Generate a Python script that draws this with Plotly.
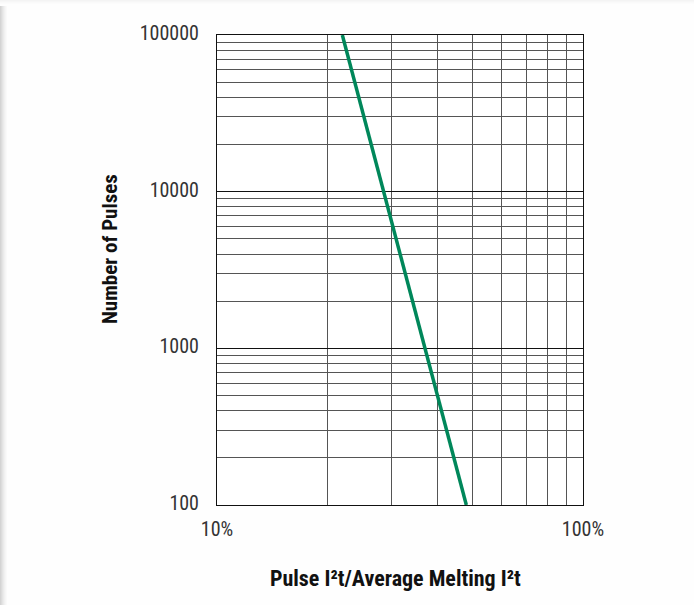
import plotly.graph_objects as go

# ---- data ----
pulse_ratio_pct = [22, 48]          # Pulse I²t / Average Melting I²t (%)
num_pulses = [100000, 100]          # Number of Pulses

x_major = [10, 100]
x_major_text = ["10%", "100%"]
x_minor = [20, 30, 40, 50, 60, 70, 80, 90]

y_major = [100, 1000, 10000, 100000]
y_major_text = ["100", "1000", "10000", "100000"]
y_minor = [m * d for d in (100, 1000, 10000) for m in range(2, 10)]

FONT = "Liberation Sans Narrow, Roboto Condensed, Arial Narrow, Liberation Sans, sans-serif"
W, H = 694, 605
L, R, T, B = 217, 583, 35, 505

fig = go.Figure()
fig.add_trace(go.Scatter(
    x=pulse_ratio_pct, y=num_pulses, mode="lines",
    line=dict(color="#00875a", width=3.5), hoverinfo="skip", showlegend=False,
))

def px_x(p):
    return (p - L) / (R - L)

def px_y(p):
    return (B - p) / (B - T)

shapes = []
# soft card shadow at left and top edges
shadow_cols = ["#d4d4d4", "#dcdcdc", "#e4e4e4", "#ebebeb", "#f1f1f1", "#f6f6f6", "#fafafa"]
for i, c in enumerate(shadow_cols):
    shapes.append(dict(type="rect", xref="paper", yref="paper", layer="below",
                       x0=px_x(i), x1=px_x(i + 1), y0=px_y(H), y1=px_y(6),
                       fillcolor=c, line_width=0))
for i, c in enumerate(["#f4f4f4", "#f7f7f7", "#fafafa", "#fcfcfc"]):
    shapes.append(dict(type="rect", xref="paper", yref="paper", layer="below",
                       x0=px_x(0), x1=px_x(W), y0=px_y(i + 1), y1=px_y(i),
                       fillcolor=c, line_width=0))

fig.update_layout(
    width=W, height=H,
    margin=dict(l=L, r=W - R, t=T, b=H - B),
    paper_bgcolor="#fefefe", plot_bgcolor="white",
    font=dict(family=FONT, size=20, color="#333333"),
    shapes=shapes,
    xaxis=dict(
        type="log", range=[1, 2],
        tickmode="array", tickvals=x_major, ticktext=x_major_text,
        showgrid=True, gridcolor="#111111", gridwidth=1,
        minor=dict(tickmode="array", tickvals=x_minor, showgrid=True,
                   gridcolor="#555555", gridwidth=1.2, ticks=""),
        showline=True, linecolor="#111111", linewidth=1, mirror=True,
        ticks="", ticklabelstandoff=6, zeroline=False,
    ),
    yaxis=dict(
        type="log", range=[2, 5],
        tickmode="array", tickvals=y_major, ticktext=y_major_text,
        showgrid=True, gridcolor="#111111", gridwidth=1,
        minor=dict(tickmode="array", tickvals=y_minor, showgrid=True,
                   gridcolor="#555555", gridwidth=1.2, ticks=""),
        showline=True, linecolor="#111111", linewidth=1, mirror=True,
        ticks="", ticklabelstandoff=13, ticklabelshift=-2, zeroline=False,
    ),
    annotations=[
        dict(text="<b>Pulse I²t/Average Melting I²t</b>", xref="paper", yref="paper",
             x=px_x(395), y=px_y(578), xanchor="center", yanchor="middle",
             showarrow=False,
             font=dict(family=FONT, size=22, color="#111111")),
        dict(text="<b>Number of Pulses</b>", xref="paper", yref="paper",
             x=px_x(110), y=px_y(249), xanchor="center", yanchor="middle",
             showarrow=False, textangle=-90,
             font=dict(family=FONT, size=21, color="#111111")),
    ],
)

fig.write_html("out.html", config={"displayModeBar": False},
               post_script="document.body.style.margin='0';document.body.style.padding='0';")
